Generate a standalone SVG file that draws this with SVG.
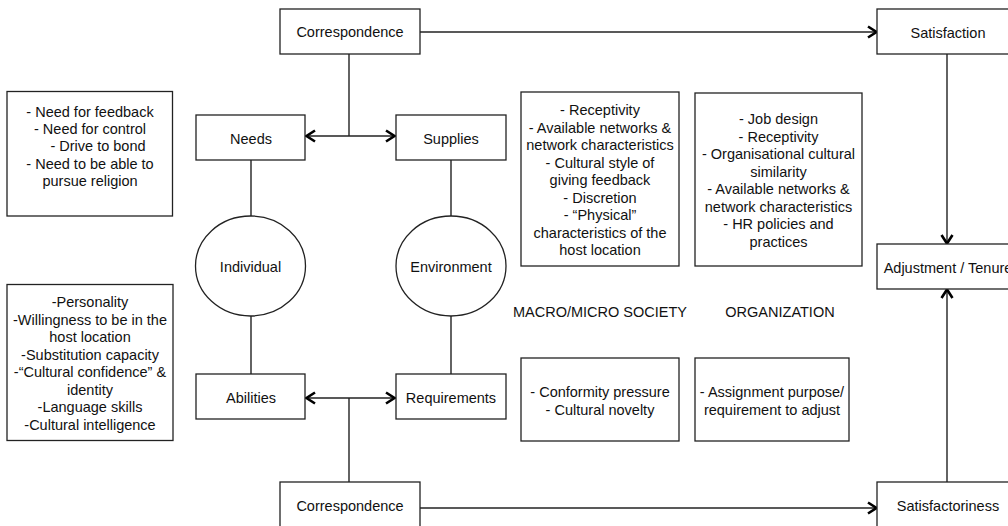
<svg xmlns="http://www.w3.org/2000/svg" width="1008" height="526" viewBox="0 0 1008 526">
<style>
rect,ellipse{fill:#fff;stroke:#222;stroke-width:1.3}
text{font-family:"Liberation Sans",Arial,sans-serif;font-size:14.5px;fill:#111;text-anchor:middle}
.c line,.c path{stroke:#222;stroke-width:1.4;fill:none}
</style>
<defs>
<marker id="ah" markerUnits="userSpaceOnUse" markerWidth="14" markerHeight="14" viewBox="0 0 14 14" refX="11.5" refY="7" orient="auto-start-reverse">
<path d="M2.5,1.5 L11,7 L2.5,12.5" fill="none" stroke="#000" stroke-width="2.6"/>
</marker>
</defs>
<g class="c" id="connectors">
<line x1="420" y1="32" x2="877" y2="32" marker-end="url(#ah)"/>
<line x1="349" y1="54" x2="349" y2="136"/>
<line x1="306" y1="136" x2="395" y2="136" marker-start="url(#ah)" marker-end="url(#ah)"/>
<line x1="251" y1="160" x2="251" y2="216"/>
<line x1="451" y1="160" x2="451" y2="216"/>
<line x1="251" y1="316" x2="251" y2="374"/>
<line x1="451" y1="316" x2="451" y2="374"/>
<line x1="306" y1="398" x2="395" y2="398" marker-start="url(#ah)" marker-end="url(#ah)"/>
<line x1="349" y1="398" x2="349" y2="482"/>
<line x1="420" y1="508" x2="877" y2="508" marker-end="url(#ah)"/>
<line x1="947" y1="54" x2="947" y2="244" marker-end="url(#ah)"/>
<line x1="947" y1="482" x2="947" y2="289" marker-end="url(#ah)"/>
</g>
<g id="corr-top"><rect x="280" y="9" width="140" height="45"/><text x="350" y="37">Correspondence</text></g>
<g id="satisfaction"><rect x="877" y="9" width="142" height="45"/><text x="948" y="38">Satisfaction</text></g>
<g id="needs"><rect x="196" y="115" width="109" height="45"/><text x="251" y="144">Needs</text></g>
<g id="supplies"><rect x="396" y="115" width="110" height="45"/><text x="451" y="144">Supplies</text></g>
<g id="individual"><ellipse cx="250.5" cy="266" rx="55" ry="50"/><text x="250.5" y="272">Individual</text></g>
<g id="environment"><ellipse cx="451" cy="266" rx="55" ry="50"/><text x="451" y="272">Environment</text></g>
<g id="abilities"><rect x="196" y="374" width="109" height="45"/><text x="251" y="403">Abilities</text></g>
<g id="requirements"><rect x="396" y="374" width="110" height="45"/><text x="451" y="403">Requirements</text></g>
<g id="corr-bottom"><rect x="280" y="482" width="140" height="46"/><text x="350" y="511">Correspondence</text></g>
<g id="adjustment"><rect x="877" y="244" width="142" height="45"/><text x="948" y="273">Adjustment / Tenure</text></g>
<g id="satisfactoriness"><rect x="877" y="482" width="142" height="46"/><text x="948" y="511">Satisfactoriness</text></g>
<g id="needs-list"><rect x="7" y="91.5" width="165.5" height="124.5"/>
<text x="90" y="116.5">- Need for feedback</text>
<text x="90" y="133.5">- Need for control</text>
<text x="98" y="151">- Drive to bond</text>
<text x="90" y="168.5">- Need to be able to</text>
<text x="90" y="186">pursue religion</text>
</g>
<g id="abilities-list"><rect x="7" y="284.5" width="166" height="156"/>
<text x="90" y="307">-Personality</text>
<text x="90" y="324.5">-Willingness to be in the</text>
<text x="90" y="342">host location</text>
<text x="90" y="359.5">-Substitution capacity</text>
<text x="90" y="377">-“Cultural confidence” &amp;</text>
<text x="90" y="394.5">identity</text>
<text x="90" y="412">-Language skills</text>
<text x="90" y="429.5">-Cultural intelligence</text>
</g>
<g id="society-supplies"><rect x="521" y="92" width="158" height="174"/>
<text x="600" y="115">- Receptivity</text>
<text x="600" y="132.5">- Available networks &amp;</text>
<text x="600" y="150">network characteristics</text>
<text x="600" y="167.5">- Cultural style of</text>
<text x="600" y="185">giving feedback</text>
<text x="600" y="202.5">- Discretion</text>
<text x="600" y="220">- “Physical”</text>
<text x="600" y="237.5">characteristics of the</text>
<text x="600" y="255">host location</text>
</g>
<g id="org-supplies"><rect x="695" y="93" width="167" height="173"/>
<text x="778.5" y="124">- Job design</text>
<text x="778.5" y="141.5">- Receptivity</text>
<text x="778.5" y="159">- Organisational cultural</text>
<text x="778.5" y="176.5">similarity</text>
<text x="778.5" y="194">- Available networks &amp;</text>
<text x="778.5" y="211.5">network characteristics</text>
<text x="778.5" y="229">- HR policies and</text>
<text x="778.5" y="246.5">practices</text>
</g>
<g id="labels">
<text x="600" y="317">MACRO/MICRO SOCIETY</text>
<text x="780" y="317">ORGANIZATION</text>
</g>
<g id="society-req"><rect x="521" y="358" width="158" height="83"/>
<text x="600" y="397">- Conformity pressure</text>
<text x="600" y="414.5">- Cultural novelty</text>
</g>
<g id="org-req"><rect x="695" y="358" width="154" height="83"/>
<text x="772" y="397">- Assignment purpose/</text>
<text x="772" y="414.5">requirement to adjust</text>
</g>
</svg>
